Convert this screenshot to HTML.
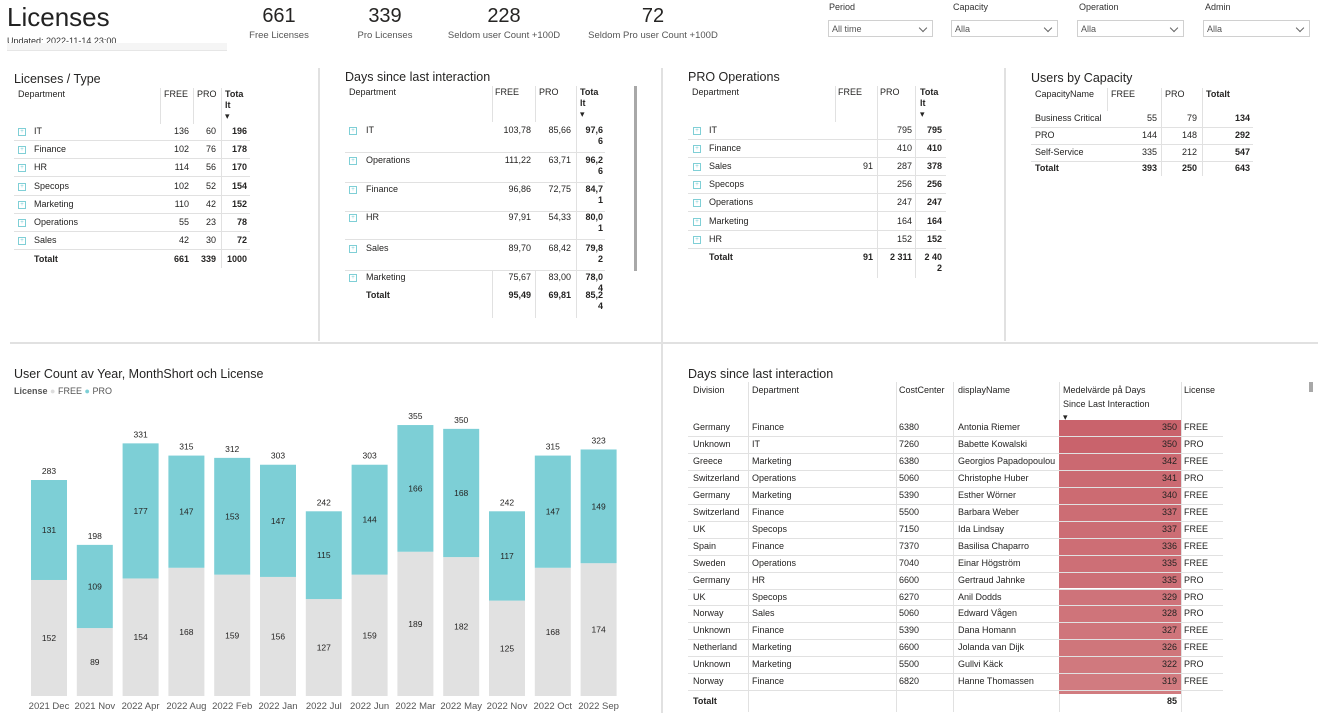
<!DOCTYPE html>
<html><head><meta charset="utf-8">
<style>
body{margin:0;width:1320px;height:728px;background:#fff;position:relative;overflow:hidden;font-family:"Liberation Sans Narrow","Liberation Sans",sans-serif;color:#252423}
.a{position:absolute;white-space:nowrap}
.t{font-size:9px;line-height:11px}
.r{text-align:right}
.b{font-weight:bold}
.h{font-family:"Liberation Sans",sans-serif;font-size:12.5px;color:#252423}
.line{position:absolute;background:#e1e1e1}
.sl{font-size:9px;color:#333}
.dd{position:absolute;border:1px solid #d0d0d0;height:17px;font-size:9px;line-height:17px;padding-left:3px;box-sizing:border-box;color:#555}
.dd:after{content:"";position:absolute;right:6px;top:4px;width:5px;height:5px;border-right:1px solid #666;border-bottom:1px solid #666;transform:rotate(45deg)}
.pl{position:absolute;width:6px;height:6px;border:1px solid #7fcfd6;font-size:6px;line-height:6px;text-align:center;color:#7fcfd6}
</style></head><body>
<div class="a" style="left:7px;top:2px;font-family:'Liberation Sans',sans-serif;font-size:26px;color:#222">Licenses</div>
<div class="a" style="left:7px;top:36px;font-size:9px;height:7px;overflow:hidden;color:#333">Updated: 2022-11-14 23:00</div>
<div class="a" style="left:7px;top:43px;width:220px;height:7px;background:#f5f5f5;border-bottom:1px solid #e6e6e6"></div>

<div class="a" style="left:239px;width:80px;top:5px;text-align:center;font-size:20px">661</div>
<div class="a" style="left:229px;width:100px;top:30px;text-align:center;font-size:9.5px;color:#555">Free Licenses</div>
<div class="a" style="left:345px;width:80px;top:5px;text-align:center;font-size:20px">339</div>
<div class="a" style="left:335px;width:100px;top:30px;text-align:center;font-size:9.5px;color:#555">Pro Licenses</div>
<div class="a" style="left:444px;width:120px;top:5px;text-align:center;font-size:20px">228</div>
<div class="a" style="left:434px;width:140px;top:30px;text-align:center;font-size:9.5px;color:#555">Seldom user Count +100D</div>
<div class="a" style="left:593px;width:120px;top:5px;text-align:center;font-size:20px">72</div>
<div class="a" style="left:573px;width:160px;top:30px;text-align:center;font-size:9.5px;color:#555">Seldom Pro user Count +100D</div>

<div class="a sl" style="left:829px;top:2px">Period</div>
<div class="dd" style="left:828px;top:20px;width:105px">All time</div>
<div class="a sl" style="left:953px;top:2px">Capacity</div>
<div class="dd" style="left:951px;top:20px;width:107px">Alla</div>
<div class="a sl" style="left:1079px;top:2px">Operation</div>
<div class="dd" style="left:1077px;top:20px;width:107px">Alla</div>
<div class="a sl" style="left:1205px;top:2px">Admin</div>
<div class="dd" style="left:1203px;top:20px;width:107px">Alla</div>

<div class="line" style="left:318px;top:68px;width:2px;height:273px"></div>
<div class="line" style="left:661px;top:68px;width:2px;height:645px"></div>
<div class="line" style="left:1004px;top:68px;width:2px;height:273px"></div>
<div class="line" style="left:10px;top:342px;width:1308px;height:2px"></div>

<div class="a h" style="left:14px;top:72px">Licenses / Type</div>
<div class="a h" style="left:345px;top:70px">Days since last interaction</div>
<div class="a h" style="left:688px;top:70px">PRO Operations</div>
<div class="a h" style="left:1031px;top:71px">Users by Capacity</div>
<div class="a h" style="left:14px;top:367px">User Count av Year, MonthShort och License</div>
<div class="a h" style="left:688px;top:367px">Days since last interaction</div>
<div class="a" style="left:634px;top:86px;width:3px;height:185px;background:#a8a8a8"></div>
<div class="a" style="left:1309px;top:382px;width:4px;height:10px;background:#a8a8a8"></div>

<div class="a" style="left:14px;top:386px;font-size:9px;color:#555"><b style="color:#555">License</b> <span style="color:#ddd">●</span> FREE <span style="color:#7dcfd6">●</span> PRO</div>
<svg id="chart" class="a" style="left:0;top:400px" width="662" height="320"></svg>

<div id="tables"></div>
<script>
const categories=["2021 Dec","2021 Nov","2022 Apr","2022 Aug","2022 Feb","2022 Jan","2022 Jul","2022 Jun","2022 Mar","2022 May","2022 Nov","2022 Oct","2022 Sep"];
const freeValues=[152,89,154,168,159,156,127,159,189,182,125,168,174];
const proValues=[131,109,177,147,153,147,115,144,166,168,117,147,149];
(function(){
 const svg=document.getElementById('chart');const NS='http://www.w3.org/2000/svg';
 const oy=400,base=696-oy,k=216/283;
 const x=i=>31+i*45.8, y=v=>base-v*k, bw=36;
 function t(px,py,s,name,fill,size){const e=document.createElementNS(NS,'text');e.setAttribute('x',px);e.setAttribute('y',py);e.setAttribute('text-anchor','middle');e.setAttribute('font-size',size||8.5);e.setAttribute('fill',fill||'#252423');e.setAttribute('font-family','Liberation Sans Narrow, Liberation Sans, sans-serif');e.textContent=s;
  
  
  svg.appendChild(e);}
 function r(px,py,w,h,f,name){const e=document.createElementNS(NS,'rect');e.setAttribute('x',px);e.setAttribute('y',py);e.setAttribute('width',w);e.setAttribute('height',h);e.setAttribute('fill',f);
  
  
  svg.appendChild(e);}
 categories.forEach((c,i)=>{
  const f=freeValues[i],p=proValues[i],tot=f+p;
  r(x(i),y(f),bw,f*k,'#e1e1e1','bar-free-'+i);
  r(x(i),y(tot),bw,p*k,'#7dcfd6','bar-pro-'+i);
  t(x(i)+bw/2,(y(f)+base)/2+3,f,'label-free-'+i);
  t(x(i)+bw/2,(y(f)+y(tot))/2+3,p,'label-pro-'+i);
  t(x(i)+bw/2,y(tot)-6,tot,'label-total-'+i);
  t(x(i)+bw/2,base+13,c,'x-tick-'+i,'#555',9.5);
 });
})();

const root=document.getElementById('tables');
function cell(x,y,txt,cls,w,name){const d=document.createElement('div');d.className='a t '+(cls||'');d.style.left=x+'px';d.style.top=y+'px';if(w){d.style.width=w+'px';}d.innerHTML=txt;
 
 
 root.appendChild(d);return d;}
function ln(x,y,w,h,name){const d=document.createElement('div');d.className='line';d.style.left=x+'px';d.style.top=y+'px';d.style.width=w+'px';d.style.height=h+'px';
 
 
 root.appendChild(d);}
function plus(x,y,name){const d=document.createElement('div');d.className='pl';d.style.left=x+'px';d.style.top=y+'px';d.textContent='+';
 
 
 root.appendChild(d);}

// Licenses / Type
const ltRows=[["IT",136,60,196],["Finance",102,76,178],["HR",114,56,170],["Specops",102,52,154],["Marketing",110,42,152],["Operations",55,23,78],["Sales",42,30,72]];
cell(18,89,"Department","",0,"lt-header-dept");cell(164,89,"FREE","",0,"lt-header-free");cell(197,89,"PRO","",0,"lt-header-pro");cell(225,89,"<b>Tota<br>lt</b><br>▾","",0,"lt-header-total");
ln(160,88,1,36,"lt-sep1");ln(193,88,1,36,"lt-sep2");ln(221,88,1,180,"lt-sep3");
ltRows.forEach((r,i)=>{const yy=126+i*18.2;plus(18,yy+2,"lt-expand-"+i);cell(34,yy,r[0],"",0,"lt-dept-"+i);cell(150,yy,r[1],"r",39,"lt-free-"+i);cell(180,yy,r[2],"r",36,"lt-pro-"+i);cell(205,yy,r[3],"r b",42,"lt-total-"+i);ln(14,yy+14,236,1,"lt-row-line-"+i);});
cell(34,254,"<b>Totalt</b>","",0,"lt-totalt");cell(150,254,"661","r b",39,"lt-free-total");cell(180,254,"339","r b",36,"lt-pro-total");cell(205,254,"1000","r b",42,"lt-grand-total");

// Days since last interaction
const dRows=[["IT","103,78","85,66","97,6<br>6"],["Operations","111,22","63,71","96,2<br>6"],["Finance","96,86","72,75","84,7<br>1"],["HR","97,91","54,33","80,0<br>1"],["Sales","89,70","68,42","79,8<br>2"],["Marketing","75,67","83,00","78,0<br>4"]];
cell(349,87,"Department","",0,"d-header-dept");cell(495,87,"FREE","",0,"d-header-free");cell(539,87,"PRO","",0,"d-header-pro");cell(580,87,"<b>Tota<br>lt</b><br>▾","",0,"d-header-total");
ln(492,86,1,36,"d-sep1");ln(535,86,1,36,"d-sep2");ln(576,86,1,232,"d-sep3");
const dY=[125,155,184,212,243,272];
dRows.forEach((r,i)=>{const yy=dY[i];plus(349,yy+2,"d-expand-"+i);cell(366,yy,r[0],"",0,"d-dept-"+i);cell(480,yy,r[1],"r",51,"d-free-"+i);cell(520,yy,r[2],"r",51,"d-pro-"+i);cell(570,yy,r[3],"r b",33,"d-total-"+i);if(i<5)ln(345,yy+27,260,1,"d-row-line-"+i);});
ln(535,270,1,48,"d-sep2b");ln(492,270,1,48,"d-sep1b");
cell(366,290,"<b>Totalt</b>","",0,"d-totalt");cell(480,290,"95,49","r b",51,"d-free-total");cell(520,290,"69,81","r b",51,"d-pro-total");cell(570,290,"85,2<br>4","r b",33,"d-grand-total");

// PRO Operations
const pRows=[["IT","",795,795],["Finance","",410,410],["Sales",91,287,378],["Specops","",256,256],["Operations","",247,247],["Marketing","",164,164],["HR","",152,152]];
cell(692,87,"Department","",0,"p-header-dept");cell(838,87,"FREE","",0,"p-header-free");cell(880,87,"PRO","",0,"p-header-pro");cell(920,87,"<b>Tota<br>lt</b><br>▾","",0,"p-header-total");
ln(835,86,1,36,"p-sep1");ln(877,86,1,192,"p-sep2");ln(915,86,1,192,"p-sep3");
pRows.forEach((r,i)=>{const yy=125+i*18.1;plus(693,yy+2,"p-expand-"+i);cell(709,yy,r[0],"",0,"p-dept-"+i);cell(830,yy,r[1],"r",43,"p-free-"+i);cell(870,yy,r[2],"r",42,"p-pro-"+i);cell(905,yy,r[3],"r b",37,"p-total-"+i);ln(688,yy+14,258,1,"p-row-line-"+i);});
cell(709,252,"<b>Totalt</b>","",0,"p-totalt");cell(830,252,"91","r b",43,"p-free-total");cell(870,252,"2 311","r b",42,"p-pro-total");cell(905,252,"2 40<br>2","r b",37,"p-grand-total");

// Users by Capacity
const cRows=[["Business Critical",55,79,134],["PRO",144,148,292],["Self-Service",335,212,547]];
cell(1035,89,"CapacityName","",0,"c-header-name");cell(1111,89,"FREE","",0,"c-header-free");cell(1165,89,"PRO","",0,"c-header-pro");cell(1206,89,"<b>Totalt</b>","",0,"c-header-total");
ln(1107,88,1,23,"c-sep1");ln(1161,88,1,88,"c-sep2");ln(1202,88,1,88,"c-sep3");
cRows.forEach((r,i)=>{const yy=113+i*17;cell(1035,yy,r[0],"",0,"c-name-"+i);cell(1110,yy,r[1],"r",47,"c-free-"+i);cell(1160,yy,r[2],"r",37,"c-pro-"+i);cell(1200,yy,r[3],"r b",50,"c-total-"+i);ln(1031,yy+14,222,1,"c-row-line-"+i);});
cell(1035,163,"<b>Totalt</b>","",0,"c-totalt");cell(1110,163,"393","r b",47,"c-free-total");cell(1160,163,"250","r b",37,"c-pro-total");cell(1200,163,"643","r b",50,"c-grand-total");

// Detail table
const detRows=[["Germany","Finance",6380,"Antonia Riemer",350,"FREE"],["Unknown","IT",7260,"Babette Kowalski",350,"PRO"],["Greece","Marketing",6380,"Georgios Papadopoulou",342,"FREE"],["Switzerland","Operations",5060,"Christophe Huber",341,"PRO"],["Germany","Marketing",5390,"Esther Wörner",340,"FREE"],["Switzerland","Finance",5500,"Barbara Weber",337,"FREE"],["UK","Specops",7150,"Ida Lindsay",337,"FREE"],["Spain","Finance",7370,"Basilisa Chaparro",336,"FREE"],["Sweden","Operations",7040,"Einar Högström",335,"FREE"],["Germany","HR",6600,"Gertraud Jahnke",335,"PRO"],["UK","Specops",6270,"Anil Dodds",329,"PRO"],["Norway","Sales",5060,"Edward Vågen",328,"PRO"],["Unknown","Finance",5390,"Dana Homann",327,"FREE"],["Netherland","Marketing",6600,"Jolanda van Dijk",326,"FREE"],["Unknown","Marketing",5500,"Gullvi Käck",322,"PRO"],["Norway","Finance",6820,"Hanne Thomassen",319,"FREE"]];
cell(693,385,"Division","",0,"det-header-division");cell(752,385,"Department","",0,"det-header-dept");cell(899,385,"CostCenter","",0,"det-header-cc");cell(958,385,"displayName","",0,"det-header-name");cell(1063,385,"Medelvärde på Days<br><span style='line-height:16px'>Since Last Interaction</span><br>▾","",0,"det-header-days");cell(1184,385,"License","",0,"det-header-license");
ln(748,382,1,330,"det-sep1");ln(896,382,1,330,"det-sep2");ln(953,382,1,330,"det-sep3");ln(1059,382,1,330,"det-sep4");ln(1181,382,1,330,"det-sep5");
const rh=16.95;
detRows.forEach((r,i)=>{const yy=420+i*rh;const d=document.createElement('div');d.className='a';d.style.left='1059px';d.style.top=yy+'px';d.style.width='122px';d.style.height=(rh-1)+'px';const s=(350-r[4])/31;d.style.background='rgb('+Math.round(201+8*s)+','+Math.round(99+24*s)+','+Math.round(108+20*s)+')';
 
 
 root.appendChild(d);
 const ty=yy+2;cell(693,ty,r[0],"",0,"det-division-"+i);cell(752,ty,r[1],"",0,"det-dept-"+i);cell(899,ty,r[2],"",0,"det-cc-"+i);cell(958,ty,r[3],"",0,"det-name-"+i);cell(1120,ty,r[4],"r",57,"det-days-"+i);cell(1184,ty,r[5],"",0,"det-license-"+i);ln(688,yy+rh-1,535,1,"det-row-line-"+i);});
(function(){const d=document.createElement('div');d.className='a';d.style.left='1059px';d.style.top=(420+16*rh)+'px';d.style.width='122px';d.style.height=(694-420-16*rh)+'px';d.style.background='rgb(209,124,128)';
 
 
 root.appendChild(d);})();
cell(693,696,"<b>Totalt</b>","",0,"det-totalt");cell(1120,696,"85","r b",57,"det-days-total");
</script>
</body></html>
